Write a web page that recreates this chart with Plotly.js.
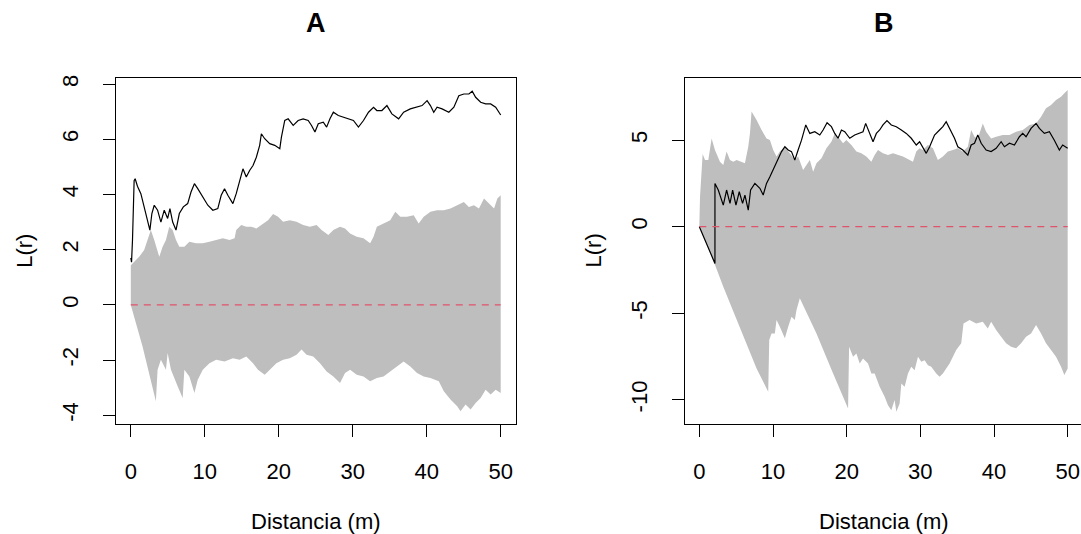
<!DOCTYPE html>
<html>
<head>
<meta charset="utf-8">
<script src="https://cdn.plot.ly/plotly-3.0.1.min.js"></script>
<style>
  html, body { margin: 0; padding: 0; overflow: hidden; background: #fff; }
  #chart { width: 1084px; height: 534px; }
</style>
</head>
<body>
<div id="chart"></div>
<script>
// ---- Panel A: observed L(r) and simulation envelope ----
const aObsR = [0, 0.1, 0.23, 0.45, 0.59, 0.9, 1.36, 1.81, 2.26, 2.58, 2.85, 3.17, 3.62, 4.07, 4.52, 4.98, 5.29, 5.66, 6.11, 6.56, 7.1, 7.69, 8.14, 8.6, 9.05, 9.73, 10.41, 11.09, 11.76, 12.22, 12.67, 13.12, 13.8, 14.25, 14.71, 15.16, 15.61, 16.06, 16.52, 16.97, 17.42, 17.65, 18.1, 18.78, 19.46, 20.14, 20.36, 20.81, 21.27, 21.95, 22.62, 23.3, 23.98, 24.43, 24.89, 25.34, 26.02, 26.47, 26.92, 27.38, 28.05, 28.73, 29.41, 30.09, 30.77, 31.45, 32.13, 32.81, 33.26, 33.94, 34.62, 35.29, 36.2, 36.88, 37.78, 38.69, 39.37, 40.05, 40.5, 40.95, 41.4, 42.08, 42.99, 43.67, 44.34, 45.02, 45.7, 46.15, 46.61, 47.29, 47.96, 48.64, 49.32, 50];
const aObsL = [1.7, 1.55, 2.35, 4.5, 4.57, 4.3, 4.03, 3.55, 3.07, 2.71, 3.31, 3.61, 3.43, 3.0, 3.43, 3.13, 3.49, 3.0, 2.71, 3.31, 3.55, 3.67, 4.09, 4.39, 4.21, 3.91, 3.61, 3.43, 3.49, 3.97, 4.21, 3.97, 3.67, 4.03, 4.51, 4.93, 4.63, 4.87, 5.05, 5.35, 5.78, 6.2, 6.02, 5.84, 5.78, 5.66, 6.08, 6.68, 6.74, 6.5, 6.68, 6.74, 6.68, 6.5, 6.26, 6.56, 6.62, 6.44, 6.74, 6.98, 6.86, 6.8, 6.74, 6.68, 6.44, 6.68, 6.98, 7.16, 7.04, 7.04, 7.22, 6.92, 6.74, 6.98, 7.1, 7.16, 7.22, 7.4, 7.22, 6.98, 7.16, 7.1, 6.98, 7.16, 7.58, 7.64, 7.64, 7.74, 7.52, 7.34, 7.28, 7.28, 7.16, 6.88];

const aHiR = [0, 0.45, 1.13, 1.81, 2.4, 2.71, 3.17, 3.85, 4.3, 4.75, 5.2, 5.66, 6.11, 6.56, 7.24, 7.92, 8.82, 9.73, 10.63, 11.54, 12.44, 13.35, 14.03, 14.25, 14.93, 15.61, 16.29, 16.97, 17.87, 18.55, 19.23, 19.91, 20.59, 21.49, 22.4, 23.3, 24.21, 25.11, 25.79, 26.7, 27.38, 28.28, 28.96, 29.64, 30.54, 31.45, 32.35, 32.81, 33.26, 34.16, 35.07, 35.75, 36.43, 37.33, 38.24, 38.91, 39.59, 40.5, 41.4, 42.31, 43.21, 44.12, 45.02, 45.7, 46.38, 47.06, 47.74, 48.42, 49.1, 49.55, 50];
const aHi = [1.44, 1.56, 1.74, 1.99, 2.47, 2.71, 2.35, 1.74, 2.11, 2.35, 2.83, 2.71, 2.35, 2.11, 2.11, 2.29, 2.23, 2.23, 2.29, 2.35, 2.41, 2.35, 2.41, 2.71, 2.89, 2.83, 2.83, 2.77, 2.95, 3.07, 3.29, 3.19, 3.01, 3.07, 3.01, 2.89, 2.83, 2.89, 2.71, 2.53, 2.71, 2.83, 2.77, 2.59, 2.47, 2.41, 2.23, 2.47, 2.83, 2.95, 3.07, 3.37, 3.19, 3.19, 3.25, 2.95, 3.19, 3.37, 3.43, 3.43, 3.49, 3.61, 3.73, 3.55, 3.61, 3.49, 3.85, 3.67, 3.49, 3.85, 3.97];

const aLoR = [0, 1.58, 2.71, 3.39, 3.62, 4.07, 4.75, 4.98, 5.43, 6.33, 7.01, 7.24, 7.92, 8.6, 9.05, 9.73, 10.63, 11.54, 12.67, 13.8, 14.71, 15.61, 16.52, 17.19, 18.1, 18.78, 19.68, 20.59, 21.49, 22.4, 23.08, 23.76, 24.66, 25.57, 26.47, 27.38, 28.28, 28.96, 29.64, 30.54, 31.45, 32.35, 33.26, 34.16, 35.07, 35.97, 36.88, 37.78, 38.69, 39.59, 40.5, 41.63, 42.31, 43.21, 44.12, 44.57, 45.25, 45.93, 46.61, 47.29, 47.96, 48.64, 49.32, 50];
const aLo = [0, -1.5, -2.71, -3.49, -2.35, -1.99, -2.35, -1.74, -2.35, -2.95, -3.37, -2.35, -2.59, -3.19, -2.71, -2.35, -2.11, -1.99, -2.05, -1.93, -1.99, -1.87, -2.11, -2.35, -2.53, -2.35, -2.11, -1.99, -1.93, -1.81, -1.62, -1.81, -1.87, -2.11, -2.41, -2.59, -2.83, -2.47, -2.35, -2.53, -2.59, -2.77, -2.65, -2.59, -2.41, -2.23, -2.05, -2.23, -2.47, -2.59, -2.65, -2.77, -3.13, -3.43, -3.67, -3.85, -3.61, -3.79, -3.55, -3.37, -3.07, -3.25, -3.07, -3.19];

// ---- Panel B ----
const bObsR = [0, 2.12, 2.12, 2.57, 3.25, 3.7, 4.16, 4.52, 4.97, 5.42, 5.87, 6.19, 6.64, 6.96, 7.54, 8.22, 8.67, 9.12, 9.58, 10.25, 10.7, 11.16, 11.61, 12.06, 12.51, 12.96, 13.41, 13.87, 14.45, 15.0, 15.67, 16.35, 16.8, 17.34, 17.93, 18.38, 18.83, 19.29, 19.74, 20.42, 21.09, 21.77, 22.22, 22.58, 23.04, 23.58, 24.03, 24.48, 24.93, 25.47, 26.06, 26.74, 27.42, 28.09, 28.77, 29.45, 29.9, 30.35, 30.8, 31.26, 31.93, 32.61, 33.06, 33.51, 33.97, 34.64, 35.09, 35.77, 36.45, 36.9, 37.35, 37.8, 38.26, 38.93, 39.61, 40.29, 40.97, 41.42, 42.1, 42.77, 43.45, 43.9, 44.35, 45.03, 45.71, 46.16, 46.84, 47.52, 48.19, 48.87, 49.32, 50];
const bObsL = [0, -2.12, 2.5, 2.12, 1.25, 2.12, 1.35, 2.12, 1.25, 2.02, 1.35, 1.83, 0.96, 2.12, 2.5, 2.22, 1.83, 2.5, 2.89, 3.47, 3.85, 4.34, 4.62, 4.43, 4.34, 3.85, 4.43, 5.0, 5.88, 5.39, 5.49, 5.3, 5.59, 6.01, 5.78, 5.39, 5.11, 5.59, 5.49, 5.11, 5.3, 5.39, 5.49, 5.97, 5.49, 4.91, 5.39, 5.59, 5.88, 6.13, 5.88, 5.78, 5.59, 5.39, 5.11, 4.72, 4.91, 4.53, 4.24, 4.62, 5.3, 5.59, 5.78, 6.07, 5.68, 5.11, 4.62, 4.43, 4.14, 4.72, 4.82, 5.3, 4.82, 4.43, 4.34, 4.53, 4.91, 4.62, 4.82, 4.72, 5.2, 5.39, 5.2, 5.68, 5.97, 5.68, 5.39, 5.49, 5.0, 4.43, 4.72, 4.53];

const bHiR = [0, 0.09, 0.45, 0.77, 1.22, 1.67, 2.12, 2.8, 3.25, 3.7, 4.16, 4.61, 5.06, 5.74, 6.19, 6.64, 6.87, 7.09, 7.77, 8.45, 9.12, 9.58, 10.03, 10.48, 10.93, 11.61, 12.29, 12.96, 13.41, 14.09, 14.54, 15.0, 15.45, 15.9, 16.58, 17.25, 17.93, 18.38, 18.83, 19.51, 19.96, 20.64, 21.32, 21.99, 22.67, 23.35, 23.8, 24.25, 24.93, 25.61, 26.29, 26.96, 27.64, 28.55, 29.0, 29.45, 29.9, 30.35, 31.03, 31.71, 32.38, 33.06, 33.74, 34.42, 35.09, 35.77, 36.45, 36.9, 37.35, 37.8, 38.48, 38.93, 39.61, 40.29, 41.19, 42.1, 43.0, 43.9, 44.81, 45.71, 46.39, 47.06, 47.74, 48.42, 49.1, 49.55, 50];
const bHi = [0, 1.7, 4.2, 3.85, 3.85, 5.1, 4.43, 3.76, 3.56, 4.34, 3.85, 3.76, 3.85, 3.76, 3.66, 4.62, 5.39, 6.65, 6.17, 5.59, 5.1, 5.01, 4.43, 4.05, 4.34, 4.62, 4.24, 3.85, 4.05, 3.28, 3.56, 3.85, 3.18, 3.66, 3.95, 4.53, 4.91, 5.39, 5.2, 4.82, 5.01, 4.72, 4.34, 4.24, 4.05, 3.76, 4.14, 4.43, 4.24, 4.14, 4.24, 4.14, 4.05, 3.85, 3.76, 4.34, 4.53, 4.43, 4.72, 4.53, 3.85, 4.05, 4.34, 4.43, 4.53, 4.34, 4.62, 5.59, 5.2, 5.1, 5.97, 5.49, 5.1, 5.2, 5.3, 5.3, 5.49, 5.59, 5.88, 5.97, 6.36, 6.84, 7.03, 7.32, 7.51, 7.71, 7.9];

const bLoR = [0, 2.12, 3.25, 5.51, 7.77, 9.35, 9.49, 9.8, 10.25, 10.48, 10.93, 11.61, 12.06, 12.51, 12.96, 13.19, 13.64, 15.9, 18.16, 20.19, 20.33, 20.87, 21.32, 21.77, 22.22, 22.9, 23.35, 23.8, 24.48, 25.16, 25.61, 26.06, 26.51, 26.74, 27.19, 27.42, 27.87, 28.32, 28.77, 29.22, 29.68, 30.13, 30.58, 31.03, 31.48, 32.16, 32.61, 33.06, 33.97, 34.87, 35.55, 35.86, 36.68, 37.58, 38.48, 39.16, 39.61, 40.29, 40.97, 41.64, 42.32, 43.0, 43.68, 44.35, 45.03, 45.71, 46.39, 47.06, 47.74, 48.42, 49.1, 49.55, 50];
const bLo = [0, -2.2, -3.47, -5.88, -8.19, -9.54, -6.55, -6.17, -6.17, -5.39, -5.78, -6.45, -5.78, -5.2, -5.39, -4.82, -4.14, -6.17, -8.48, -10.5, -6.94, -7.51, -7.32, -7.9, -7.61, -7.9, -8.48, -8.48, -9.25, -9.83, -10.31, -10.6, -10.02, -10.69, -10.21, -9.06, -9.25, -8.48, -8.09, -8.29, -7.51, -7.8, -7.71, -8.0, -8.09, -8.48, -8.67, -8.48, -7.9, -7.13, -6.74, -5.59, -5.39, -5.59, -5.49, -5.88, -5.49, -5.97, -6.36, -6.74, -6.94, -7.03, -6.74, -6.36, -6.17, -5.68, -6.17, -6.74, -7.13, -7.51, -8.09, -8.57, -8.2];

// Theoretical L(r) under complete spatial randomness
const theoR = [0, 50];
const theoL = [0, 0];

// Tick labels
const xTicks = [0, 10, 20, 30, 40, 50];
const aYTicks = [-4, -2, 0, 2, 4, 6, 8];
const aYText = ['-4', '-2', '0', '2', '4', '6', '8'];
const bYTicks = [-10, -5, 0, 5];
const bYText = ['-10', '-5', '0', '5'];

const panelTitles = ['A', 'B'];
const xLabel = 'Distancia (m)';
const yLabel = 'L(r)';

// ---- geometry (pixels) ----
const W = 1084, H = 534;
const boxTop = 77.7, boxBottom = 424;
const aLeft = 116, aRight = 515.5;
const bLeft = 684.6, bRight = 1082.4;

const FONT = 'Liberation Sans, Arial, Helvetica, sans-serif';
const GREY = '#BEBEBE';
const RED = '#DF536B';

function envelope(loR, lo, hiR, hi, xa, ya) {
  return {
    x: hiR.concat(loR.slice().reverse()),
    y: hi.concat(lo.slice().reverse()),
    xaxis: xa, yaxis: ya,
    type: 'scatter', mode: 'lines', fill: 'toself',
    fillcolor: GREY, line: { width: 0, color: GREY },
    hoverinfo: 'skip', showlegend: false
  };
}
function curve(x, y, xa, ya, color, dash, width) {
  return {
    x: x, y: y, xaxis: xa, yaxis: ya,
    type: 'scatter', mode: 'lines',
    line: { color: color, width: width, dash: dash },
    showlegend: false
  };
}

const traces = [
  envelope(aLoR, aLo, aHiR, aHi, 'x', 'y'),
  curve(aObsR, aObsL, 'x', 'y', '#000', 'solid', 1.2),
  curve(theoR, theoL, 'x', 'y', RED, '7px,6px', 1.2),
  envelope(bLoR, bLo, bHiR, bHi, 'x2', 'y2'),
  curve(bObsR, bObsL, 'x2', 'y2', '#000', 'solid', 1.2),
  curve(theoR, theoL, 'x2', 'y2', RED, '7px,6px', 1.2)
];

const yDom = [1 - boxBottom / H, 1 - boxTop / H];

function xAxis(l, r, anchor) {
  return {
    domain: [l / W, r / W], anchor: anchor,
    range: [-2, 52], tickmode: 'array', tickvals: xTicks,
    ticks: 'outside', ticklen: 12, tickwidth: 1, tickcolor: '#000',
    showline: true, mirror: true, linecolor: '#000', linewidth: 1,
    showgrid: false, zeroline: false,
    tickfont: { family: FONT, size: 22, color: '#000' },
    ticklabelstandoff: 16
  };
}
function yAxis(range, vals, text, anchor) {
  return {
    domain: yDom, anchor: anchor,
    range: range, tickmode: 'array', tickvals: vals, ticktext: text,
    ticks: 'outside', ticklen: 12, tickwidth: 1, tickcolor: '#000',
    showline: true, mirror: true, linecolor: '#000', linewidth: 1,
    showgrid: false, zeroline: false, tickangle: -90,
    tickfont: { family: FONT, size: 22, color: '#000' },
    ticklabelstandoff: 16
  };
}

function label(text, px, py, size, angle, bold) {
  return {
    text: bold ? '<b>' + text + '</b>' : text,
    x: px / W, y: 1 - py / H, xref: 'paper', yref: 'paper',
    xanchor: 'center', yanchor: 'middle', showarrow: false,
    textangle: angle,
    font: { family: FONT, size: size, color: '#000' }
  };
}

const aMid = (aLeft + aRight) / 2, bMid = (bLeft + bRight) / 2;
const yMid = (boxTop + boxBottom) / 2;

const layout = {
  width: W, height: H,
  margin: { l: 0, r: 0, t: 0, b: 0 },
  paper_bgcolor: '#fff', plot_bgcolor: '#fff',
  showlegend: false,
  xaxis: xAxis(aLeft, aRight, 'y'),
  yaxis: yAxis([-4.315, 8.23], aYTicks, aYText, 'x'),
  xaxis2: xAxis(bLeft, bRight, 'y2'),
  yaxis2: yAxis([-11.40, 8.61], bYTicks, bYText, 'x2'),
  annotations: [
    label(panelTitles[0], aMid, 23, 27, 0, true),
    label(panelTitles[1], bMid, 23, 27, 0, true),
    label(xLabel, aMid, 521, 22, 0, false),
    label(xLabel, bMid, 521, 22, 0, false),
    label(yLabel, 25, yMid, 22, -90, false),
    label(yLabel, 25 + (bLeft - aLeft), yMid, 22, -90, false)
  ]
};

Plotly.newPlot('chart', traces, layout, { staticPlot: true, displayModeBar: false });
</script>
</body>
</html>
